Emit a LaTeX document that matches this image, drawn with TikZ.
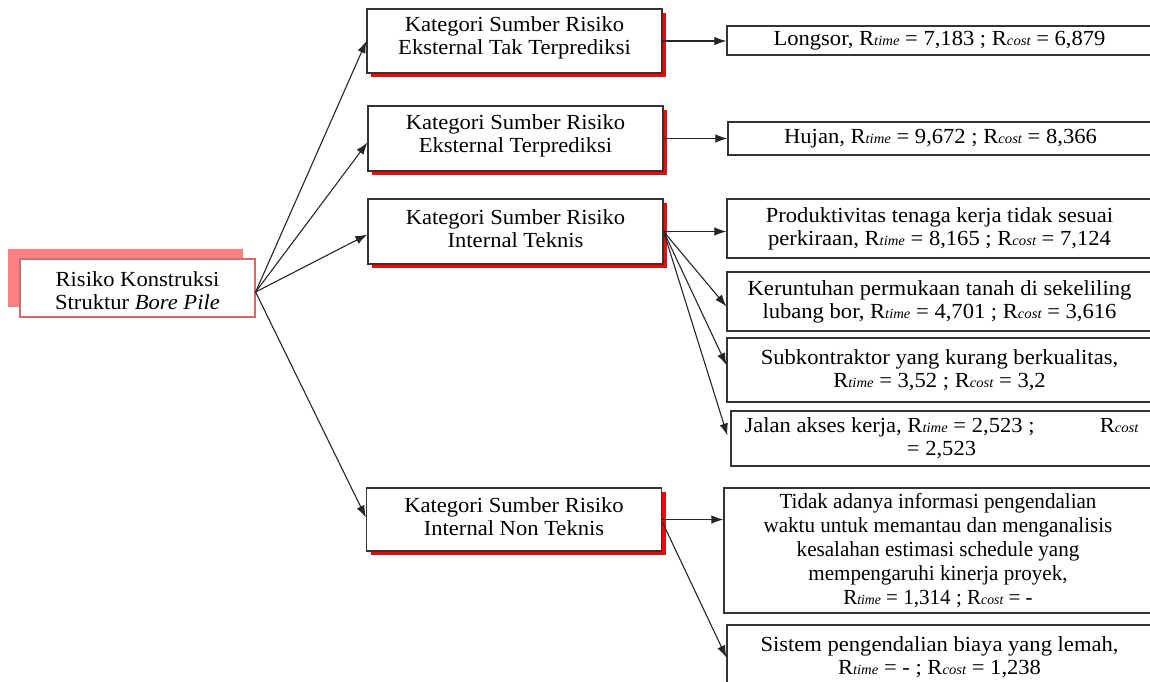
\documentclass[tikz,border=0pt]{standalone}
\usepackage{fontspec}
\setmainfont{Liberation Serif}[FakeStretch=1.05]
\newfontfamily\condfont{Liberation Serif}[FakeStretch=0.98]
\usetikzlibrary{arrows.meta,shadows,calc}
\definecolor{rootline}{HTML}{D66A6A}
\definecolor{rootshadow}{HTML}{FF8080}
\definecolor{shadred}{HTML}{FF0000}
\definecolor{boxline}{HTML}{333333}
\newcommand\Rsub[1]{R{\fontsize{14}{14}\selectfont\itshape #1}}
\tikzset{
  every node/.style={font=\fontsize{21.5}{23}\selectfont, align=center, inner sep=0pt},
  rootbox/.style={draw=rootline, line width=1.2pt, fill=white, minimum width=235pt, minimum height=58pt,
    copy shadow={shadow xshift=-12pt, shadow yshift=10pt, fill=rootshadow, draw=none}},
  catbox/.style={draw=boxline, line width=1.2pt, fill=white, minimum width=295pt, minimum height=64pt,
    copy shadow={shadow xshift=4pt, shadow yshift=-4pt, fill=shadred, draw=none}},
  boxtext/.style={},
  leafbox/.style={draw=boxline, line width=1.2pt, fill=white, minimum width=425pt},
  arr/.style={draw=black!85, line width=1.1pt, -{Latex[length=12pt,width=8.5pt]}}
}
\begin{document}
\begin{tikzpicture}[x=1pt,y=-1pt]
\useasboundingbox (0,0) rectangle (1150,681);
% root
\node[rootbox] (root) at (137.5,288) {};
\node[boxtext] (roott) at ($(root.center)+(0,3)$) {Risiko Konstruksi\\Struktur \textit{Bore Pile}};
% categories
\node[catbox] (cat1) at (514.5,41) {};
\node[boxtext] (cat1t) at ($(cat1.center)+(0,-3)$) {Kategori Sumber Risiko\\Eksternal Tak Terprediksi};
\node[catbox, minimum height=65pt] (cat2) at (515.5,138.5) {};
\node[boxtext] (cat2t) at ($(cat2.center)+(0,-3)$) {Kategori Sumber Risiko\\Eksternal Terprediksi};
\node[catbox, minimum height=65pt] (cat3) at (515.5,231.5) {};
\node[boxtext] (cat3t) at ($(cat3.center)+(0,-3)$) {Kategori Sumber Risiko\\Internal Teknis};
\node[catbox, minimum height=63pt] (cat4) at (514,519.5) {};
\node[boxtext] (cat4t) at ($(cat4.center)+(0,-3)$) {Kategori Sumber Risiko\\Internal Non Teknis};
% leaves
\node[leafbox, minimum height=29pt] (L1) at (939.5,40.5) {Longsor, \Rsub{time} = 7,183 ; \Rsub{cost} = 6,879};
\node[leafbox, minimum height=33pt] (L2) at (940.5,138.5) {Hujan, \Rsub{time} = 9,672 ; \Rsub{cost} = 8,366};
\node[leafbox, minimum height=59pt] (L3) at (939.5,228.5) {Produktivitas tenaga kerja tidak sesuai\\perkiraan, \Rsub{time} = 8,165 ; \Rsub{cost} = 7,124};
\node[leafbox, minimum height=59pt] (L4) at (939.5,301.5) {Keruntuhan permukaan tanah di sekeliling\\lubang bor, \Rsub{time} = 4,701 ; \Rsub{cost} = 3,616};
\node[leafbox, minimum height=64pt] (L5) at (939.5,370) {Subkontraktor yang kurang berkualitas,\\\Rsub{time} = 3,52 ; \Rsub{cost} = 3,2};
\node[leafbox, minimum width=421pt, minimum height=55pt] (L6) at (941.5,438.5) {\makebox[394pt][s]{Jalan akses kerja, \Rsub{time} = 2,523 ;\hfill\Rsub{cost}}\\= 2,523};
\node[leafbox, minimum width=428pt, minimum height=125pt, font=\condfont\fontsize{21.5}{24}\selectfont] (L7) at (938,550.5) {Tidak adanya informasi pengendalian\\waktu untuk memantau dan menganalisis\\kesalahan estimasi schedule yang\\mempengaruhi kinerja proyek,\\\Rsub{time} = 1,314 ; \Rsub{cost} = -};
\node[leafbox, minimum height=65pt] (L8) at (939.5,657.5) {Sistem pengendalian biaya yang lemah,\\\Rsub{time} = - ; \Rsub{cost} = 1,238};
% connectors
\coordinate (rootout) at ($(root.east)+(0,4)$);
\draw[arr] (rootout) -- (cat1.west);
\draw[arr] (rootout) -- ($(cat2.west)+(0,4)$);
\draw[arr] (rootout) -- ($(cat3.west)+(0,3)$);
\draw[arr] (rootout) -- ($(cat4.west)+(0,-2)$);
\draw[arr] (cat1.east) -- (cat1.east -| L1.west);
\draw[arr] (cat2.east) -- (cat2.east -| L2.west);
\draw[arr] (cat3.east) -- (cat3.east -| L3.west);
\draw[arr] (cat3.east) -- ($(L4.west)+(0,5)$);
\draw[arr] (cat3.east) -- ($(L5.west)+(0,-5)$);
\draw[arr] (cat3.east) -- ($(L6.west)+(-3,-3)$);
\draw[arr] (cat4.east) -- (cat4.east -| L7.west);
\draw[arr] ($(cat4.east)+(0,2)$) -- (L8.west);
\end{tikzpicture}
\end{document}
